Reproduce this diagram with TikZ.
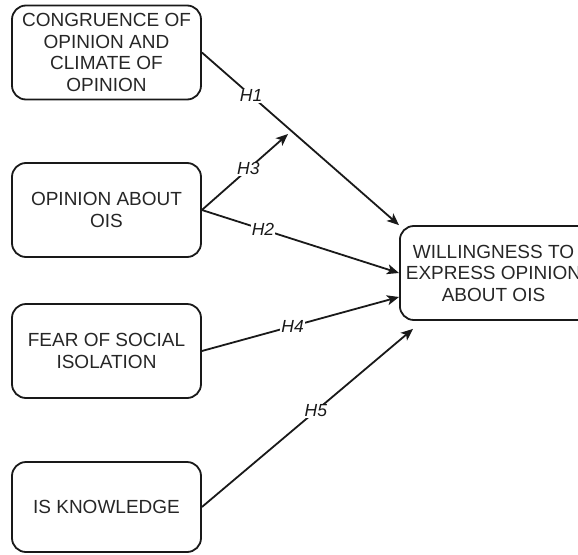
\documentclass[tikz,border=0pt]{standalone}
\usepackage{fontspec}
\setmainfont{Liberation Sans}
\usetikzlibrary{arrows.meta,calc}
\begin{document}
\begin{tikzpicture}[x=1pt,y=-1pt,
  box/.style={draw=black!90,line width=1.8pt,rounded corners=14pt,minimum width=189pt,minimum height=94pt,align=center,font=\fontsize{19}{21.5}\selectfont,text=black!85,inner sep=0pt},
  boxtext/.style={align=center,font=\fontsize{19}{21.5}\selectfont,text=black!85,inner sep=0pt},
  link/.style={draw=black!90,line width=1.8pt,-{Stealth[length=12pt,width=10pt,inset=3pt]}},
  hyp/.style={fill=white,inner sep=1pt,font=\fontsize{17.5}{19}\selectfont\itshape,text=black!90}]
\useasboundingbox (0,0) rectangle (578,554);
\node[box] (a) at (106.5,52.5) {CONGRUENCE OF\\OPINION AND\\CLIMATE OF\\OPINION};
\node[box] (b) at (106.5,210) {OPINION ABOUT\\OIS};
\node[box] (c) at (106.5,351) {FEAR OF SOCIAL\\ISOLATION};
\node[box,minimum height=90pt] (d) at (106.5,507) {IS KNOWLEDGE};
\node[box,minimum width=205pt,anchor=west] (t) at (399,273) {};
\node[boxtext] (tt) at (493.5,273) {WILLINGNESS TO\\EXPRESS OPINION\\ABOUT OIS};
\coordinate (h3end) at (288,134);
\draw[link] (a.east) -- node[hyp,pos=0.25] {H1} (t.north west);
\draw[link] (b.east) -- node[hyp,pos=0.54] {H3} (h3end);
\draw[link] (b.east) -- node[hyp,pos=0.31] {H2} (t.west);
\draw[link] (c.east) -- node[hyp,pos=0.46] {H4} ([yshift=-24pt]t.west);
\draw[link] (d.east) -- node[hyp,pos=0.54] {H5} ([xshift=14pt,yshift=-8pt]t.south west);
\end{tikzpicture}
\end{document}
